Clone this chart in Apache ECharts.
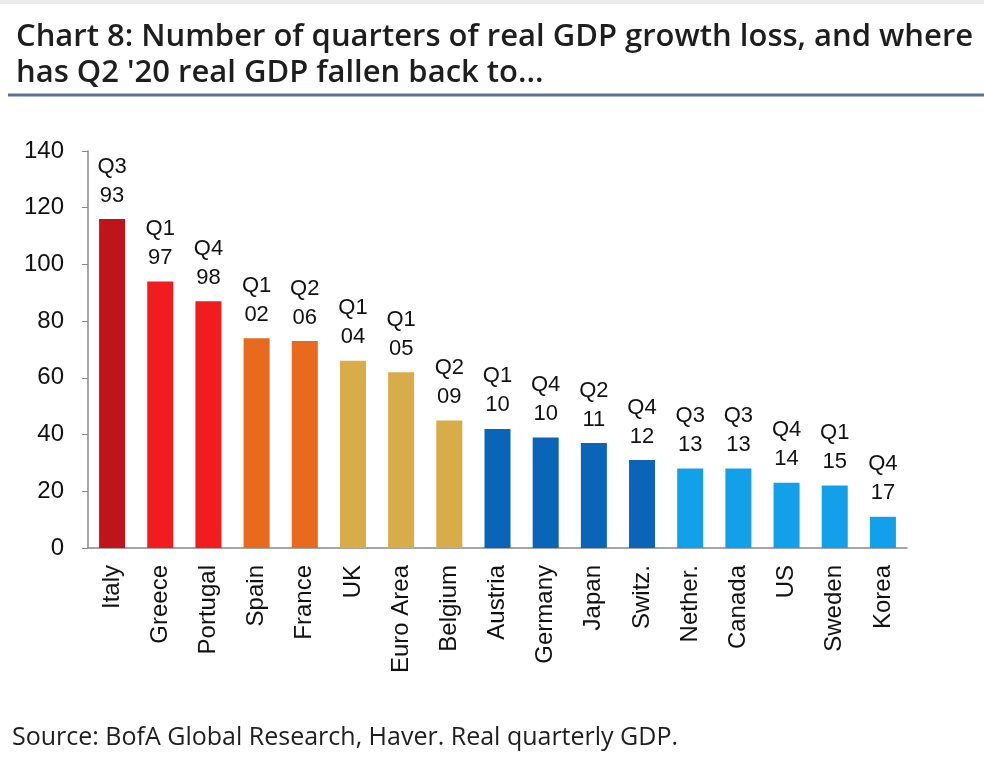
<!DOCTYPE html>
<html>
<head>
<meta charset="utf-8">
<script src="https://cdn.jsdelivr.net/npm/echarts@6/dist/echarts.min.js"></script>
<style>
html,body{margin:0;padding:0;background:#fff;}
#chart{width:984px;height:760px;}
</style>
</head>
<body>
<div id="chart"></div>
<script>
const categories = ['Italy','Greece','Portugal','Spain','France','UK','Euro Area','Belgium','Austria','Germany','Japan','Switz.','Nether.','Canada','US','Sweden','Korea'];
const values = [116, 94, 87, 74, 73, 66, 62, 45, 42, 39, 37, 31, 28, 28, 23, 22, 11];
const quarters = ['Q3','Q1','Q4','Q1','Q2','Q1','Q1','Q2','Q1','Q4','Q2','Q4','Q3','Q3','Q4','Q1','Q4'];
const years = ['93','97','98','02','06','04','05','09','10','10','11','12','13','13','14','15','17'];
const yTicks = [0, 20, 40, 60, 80, 100, 120, 140];
const colorGroups = [0, 1, 1, 2, 2, 3, 3, 3, 4, 4, 4, 4, 5, 5, 5, 5, 5];
const palette = ['#c0141c', '#f01c20', '#e86a1e', '#d8ac48', '#0a64b8', '#12a0e8'];

const axisFont = "'Liberation Sans', Arial, sans-serif";
const chart = echarts.init(document.getElementById('chart'), null, {renderer: 'canvas'});
chart.setOption({
  animation: false,
  backgroundColor: '#fff',
  title: {
    text: "Chart 8: Number of quarters of real GDP growth loss, and where\nhas Q2 '20 real GDP fallen back to...",
    left: 11, top: 14,
    textStyle: {fontFamily: "'Open Sans', sans-serif", fontWeight: 600, fontSize: 31, lineHeight: 36, color: '#1e1e1e'}
  },
  graphic: [
    {type: 'rect', shape: {x: 0, y: 0, width: 984, height: 4}, style: {fill: '#ececec'}},
    {type: 'line', shape: {x1: 8, y1: 95, x2: 984, y2: 95}, style: {stroke: '#5b7590', lineWidth: 3}},
    {type: 'text', left: 12, top: 725, style: {text: 'Source: BofA Global Research, Haver. Real quarterly GDP.', font: "400 25px 'Open Sans', sans-serif", fill: '#1e1e1e'}}
  ],
  grid: {left: 88, right: 77, top: 151, bottom: 212},
  xAxis: {
    type: 'category', data: categories,
    axisLine: {lineStyle: {color: '#888', width: 1.5}},
    axisTick: {length: 7, lineStyle: {color: '#888'}},
    axisLabel: {rotate: 90, margin: 17, fontSize: 24, color: '#111', fontFamily: axisFont, interval: 0}
  },
  yAxis: {
    type: 'value', min: yTicks[0], max: yTicks[yTicks.length - 1], interval: 20,
    splitLine: {show: false},
    axisLine: {show: true, lineStyle: {color: '#888', width: 1.5}},
    axisTick: {show: true, length: 6, lineStyle: {color: '#888'}},
    axisLabel: {margin: 24, fontSize: 24, color: '#111', fontFamily: axisFont}
  },
  series: [{
    type: 'bar', barWidth: '54%',
    data: values.map((v, i) => ({value: v, itemStyle: {color: palette[colorGroups[i]]}})),
    label: {
      show: true, position: 'top', distance: 9,
      fontSize: 22, lineHeight: 29, color: '#111', fontFamily: axisFont,
      formatter: p => quarters[p.dataIndex] + '\n' + years[p.dataIndex]
    }
  }]
});
</script>
</body>
</html>
